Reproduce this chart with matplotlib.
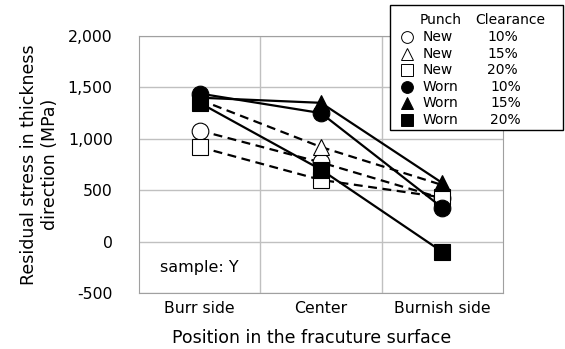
import numpy as np
import matplotlib
matplotlib.use("Agg")
from matplotlib import pyplot as plt
from matplotlib.lines import Line2D
from matplotlib.patches import Rectangle

# positions along the fracture surface
positions = ["Burr side", "Center", "Burnish side"]

# residual stress (MPa) for each punch / clearance case
new_10 = [1080, 770, 420]
new_15 = [1380, 920, 550]
new_20 = [920, 600, 430]
worn_10 = [1440, 1250, 330]
worn_15 = [1400, 1350, 570]
worn_20 = [1350, 700, -100]

punch = ["New", "New", "New", "Worn", "Worn", "Worn"]
clearance = ["10%", "15%", "20%", "10%", "15%", "20%"]

plt.rcParams['font.family'] = ['DejaVu Sans']

W, H = 565, 349
fig = plt.figure(figsize=(W/100, H/100), dpi=100)
ax = fig.add_axes([139/W, 1-293/H, 364/W, 257/H])

x = np.arange(len(positions)) + 0.5

markers = ['o', '^', 's', 'o', '^', 's']
fills = ['white']*3 + ['black']*3
styles = ['--']*3 + ['-']*3
data = [new_10, new_15, new_20, worn_10, worn_15, worn_20]

for vals, mk, fc, ls in zip(data, markers, fills, styles):
    line, = ax.plot(x, vals, color='black', linestyle=ls, linewidth=1.6,
                    marker=mk, markersize=12, markerfacecolor=fc,
                    markeredgecolor='black', markeredgewidth=0.8)
    if ls == '--':
        line.set_dashes((4, 2.5))

ax.set_xlim(0, 3)
ax.set_ylim(-500, 2000)
yt = np.arange(-500, 2001, 500)
ax.set_yticks(yt)
ax.set_yticklabels([f"{v:,}" for v in yt], fontsize=11.3)
ax.set_xticks(x)
ax.set_xticklabels(positions, fontsize=11.3)
ax.set_xticks([1, 2], minor=True)
ax.grid(True, which='major', axis='y', color='#c0c0c0', linewidth=1)
ax.grid(True, which='minor', axis='x', color='#c0c0c0', linewidth=1)
ax.tick_params(axis='y', length=0, pad=19)
ax.tick_params(axis='x', length=0, pad=6)
ax.tick_params(which='minor', length=0)
for s in ax.spines.values():
    s.set_color('#a0a0a0')
ax.set_axisbelow(True)

ax.set_ylabel("Residual stress in thickness\ndirection (MPa)", fontsize=12.5)
ax.yaxis.set_label_coords(-0.22, 0.5)
ax.set_xlabel("Position in the fracuture surface", fontsize=12.5)
ax.xaxis.set_label_coords(0.475, -0.14)

ax.text(0.173, -250, "sample: Y", fontsize=11.5, va='center')

# legend box drawn in figure pixels
def fx(px):
    return px / W

def fy(py):
    return 1 - py / H

fig.add_artist(Rectangle((fx(390), fy(130)), fx(563) - fx(390), fy(5) - fy(130),
                         transform=fig.transFigure, facecolor='white',
                         edgecolor='black', linewidth=1.0, zorder=5))
fig.text(fx(420), fy(20), "Punch", fontsize=10, va='center', zorder=6)
fig.text(fx(475), fy(20), "Clearance", fontsize=10, va='center', zorder=6)
for i, (mk, fc, p, c) in enumerate(zip(markers, fills, punch, clearance)):
    ry = fy(37 + 16.6 * i)
    fig.add_artist(Line2D([fx(407)], [ry], transform=fig.transFigure,
                          linestyle='none', marker=mk, markersize=8.5,
                          markerfacecolor=fc, markeredgecolor='black',
                          markeredgewidth=0.7, zorder=6))
    fig.text(fx(423), ry, p, fontsize=10, va='center', zorder=6)
    cx = 487 if p == "New" else 490
    fig.text(fx(cx), ry, c, fontsize=10, va='center', zorder=6)

fig.savefig("out.png", dpi=100)
